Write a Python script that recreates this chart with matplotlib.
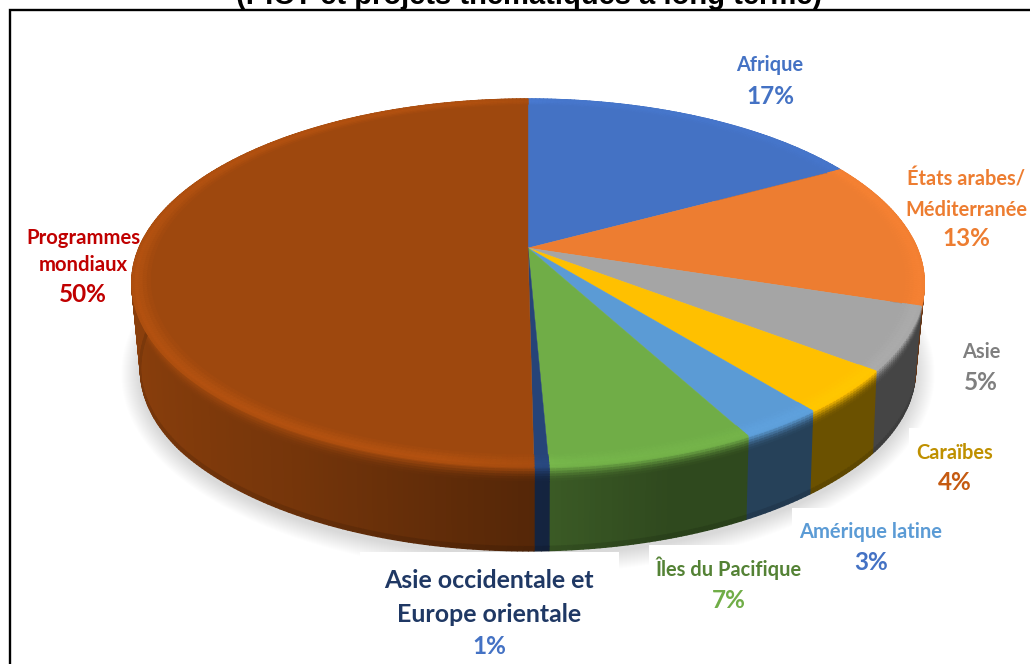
import numpy as np
import matplotlib
matplotlib.use("Agg")
import matplotlib.pyplot as plt
from matplotlib.collections import PolyCollection
from matplotlib.colors import to_rgb
from matplotlib.patches import Rectangle

# ---- data ----
regions = ["Afrique", "États arabes/\nMéditerranée", "Asie", "Caraïbes", "Amérique latine",
           "Îles du Pacifique", "Asie occidentale et\nEurope orientale", "Programmes\nmondiaux"]
shares = [17.0, 13.0, 5.5, 3.8, 2.9, 7.1, 0.5, 50.2]
percent_labels = ["17%", "13%", "5%", "4%", "3%", "7%", "1%", "50%"]
slice_colors = ["#4472C4", "#ED7D31", "#A5A5A5", "#FFC000", "#5B9BD5", "#70AD47", "#264478", "#9E480E"]
title_text = "(PICT et projets thématiques à long terme)"

# ---- label layout (pixel space) ----
name_colors = ["#4472C4", "#ED7D31", "#7F7F7F", "#BF9000", "#5B9BD5", "#548235", "#1F3864", "#C00000"]
pct_colors = ["#4472C4", "#ED7D31", "#7F7F7F", "#C55A11", "#4472C4", "#70AD47", "#4472C4", "#C00000"]
name_centers_x = [770, 966, 981, 955, 871, 729, 489, 83]
name_first_y = [65, 179, 352, 453, 532, 568.5, 581, 238]
pct_y = [97, 239, 383, 483, 563, 601, 646, 295]
line_gap = [0, 31, 0, 0, 0, 0, 33, 27]
name_size = [14.4, 14.4, 14.4, 14.4, 14.5, 14.4, 17.9, 14.6]
pct_size = 17.5

# ---- perspective model of the disc (pixel space) ----
CX, CY, A, B, K = 528.0, 248.0, 389.0, 177.3, 0.19
ELL_CY, DROP, BX, BY = 283.0, 81.0, 0.972, 1.016


def top_xy(theta, r=1.0):
    u, v = r * np.sin(theta), r * np.cos(theta)
    den = 1 + K * v
    return CX + A * u / den, CY - B * v / den


def bottom_xy(theta):
    x, y = top_xy(theta)
    front = np.clip(-np.cos(theta), 0, 1)
    sx = np.minimum(BX + 0.03 * front, 0.99)
    return CX + (x - CX) * sx, ELL_CY + DROP + (y - ELL_CY) * BY


def wall_xy(theta, t):
    x0, y0 = top_xy(theta)
    x1, y1 = bottom_xy(theta)
    return x0 + (x1 - x0) * t, y0 + (y1 - y0) * t


def shade(theta):
    return np.interp(np.sin(theta), [-1, -0.5, 0, 0.3, 1], [0.88, 0.74, 0.54, 0.42, 0.42])


def rim_scale(theta):
    return np.interp(np.sin(theta), [-1, -0.2, 0.1, 1], [1.0, 1.0, 0.35, 0.25])


plt.rcParams["font.family"] = ["Lato", "DejaVu Sans"]
fig = plt.figure(figsize=(10.30, 6.64), dpi=100, facecolor="white")
ax = fig.add_axes([0, 0, 1, 1])
ax.set_xlim(0, 1030)
ax.set_ylim(664, 0)
ax.axis("off")

# soft ground shadow
th = np.linspace(0, 2 * np.pi, 360)
for grow in np.linspace(19, 1, 19):
    bx, by = bottom_xy(th)
    sx = CX + (bx - CX) * (1 + grow / 385)
    sy = ELL_CY + DROP + 4 + (by - ELL_CY - DROP) * (1 + grow / 187)
    ax.fill(sx, sy, color="black", alpha=0.009, lw=0, zorder=1)

# white boxes behind the labels that cut the shadow
for (x0, y0, x1, y1) in [(360, 552, 619, 664), (649, 545, 812, 620), (792, 508, 960, 580), (909, 428, 1010, 500)]:
    ax.add_patch(Rectangle((x0, y0), x1 - x0, y1 - y0, fc="white", ec="none", zorder=2))

edges = np.radians(np.concatenate([[0], np.cumsum(shares)]) * 3.6)
t_levels = np.array([0, 0.03, 0.06, 0.09, 0.12, 0.15, 0.18, 0.95, 1.0])
t_mix = np.array([0.0, 0.25, 0.5, 0.72, 0.88, 0.96, 1.0, 1.0, 1.18])

wall_polys, wall_cols = [], []
top_polys, top_cols = [], []
rim_polys, rim_cols = [], []
radii = [0.955, 0.965, 0.975, 0.985, 0.995, 1.0]
rim_gain = [0.03, 0.07, 0.11, 0.13, 0.10]

for i, c in enumerate(slice_colors):
    rgb = np.array(to_rgb(c))
    n = max(3, int(np.degrees(edges[i + 1] - edges[i]) * 1.5))
    ang = np.linspace(edges[i], edges[i + 1], n)
    x, y = top_xy(ang)
    top_polys.append(np.column_stack([np.r_[CX, x], np.r_[CY, y]]))
    top_cols.append(rgb)
    for a0, a1 in zip(ang[:-1], ang[1:]):
        am = 0.5 * (a0 + a1)
        s = shade(am)
        for k in range(len(t_levels) - 1):
            t0, t1 = t_levels[k], t_levels[k + 1]
            m = min(t_mix[k], 1.0)
            col = rgb * (1 - m) + rgb * s * m
            if k == len(t_levels) - 2:
                col = rgb * s * 0.88
            pts = [wall_xy(a0, t0), wall_xy(a1, t0), wall_xy(a1, t1), wall_xy(a0, t1)]
            wall_polys.append(np.array(pts))
            wall_cols.append(col)
        for k in range(len(rim_gain)):
            r0, r1 = radii[k], radii[k + 1]
            pts = [top_xy(a0, r0), top_xy(a1, r0), top_xy(a1, r1), top_xy(a0, r1)]
            rim_polys.append(np.array(pts))
            rim_cols.append(np.clip(rgb * (1 + rim_gain[k] * rim_scale(am)), 0, 1))

ax.add_collection(PolyCollection(wall_polys, facecolors=wall_cols, edgecolors=wall_cols, linewidths=1.0, zorder=3))
ax.add_collection(PolyCollection(top_polys, facecolors=top_cols, edgecolors=top_cols, linewidths=0.3, zorder=4))
ax.add_collection(PolyCollection(rim_polys, facecolors=rim_cols, edgecolors=rim_cols, linewidths=0.8, zorder=5))

# frame and clipped title
ax.plot([10, 10, 1030], [664, 10, 10], color="black", lw=1.7, solid_joinstyle="miter", zorder=6)
ax.text(529.5, 4.5, title_text, family="Liberation Sans", fontweight="bold", fontsize=21.0,
        ha="center", va="baseline", color="black", zorder=7)

# labels
for i, name in enumerate(regions):
    for j, line in enumerate(name.split("\n")):
        ax.text(name_centers_x[i], name_first_y[i] + j * line_gap[i], line, fontsize=name_size[i],
                fontweight="bold", color=name_colors[i], ha="center", va="center", zorder=8)
    ax.text(name_centers_x[i], pct_y[i], percent_labels[i], fontsize=pct_size, fontweight="bold",
            color=pct_colors[i], ha="center", va="center", zorder=8)

fig.savefig("out.png", dpi=100, facecolor="white")
